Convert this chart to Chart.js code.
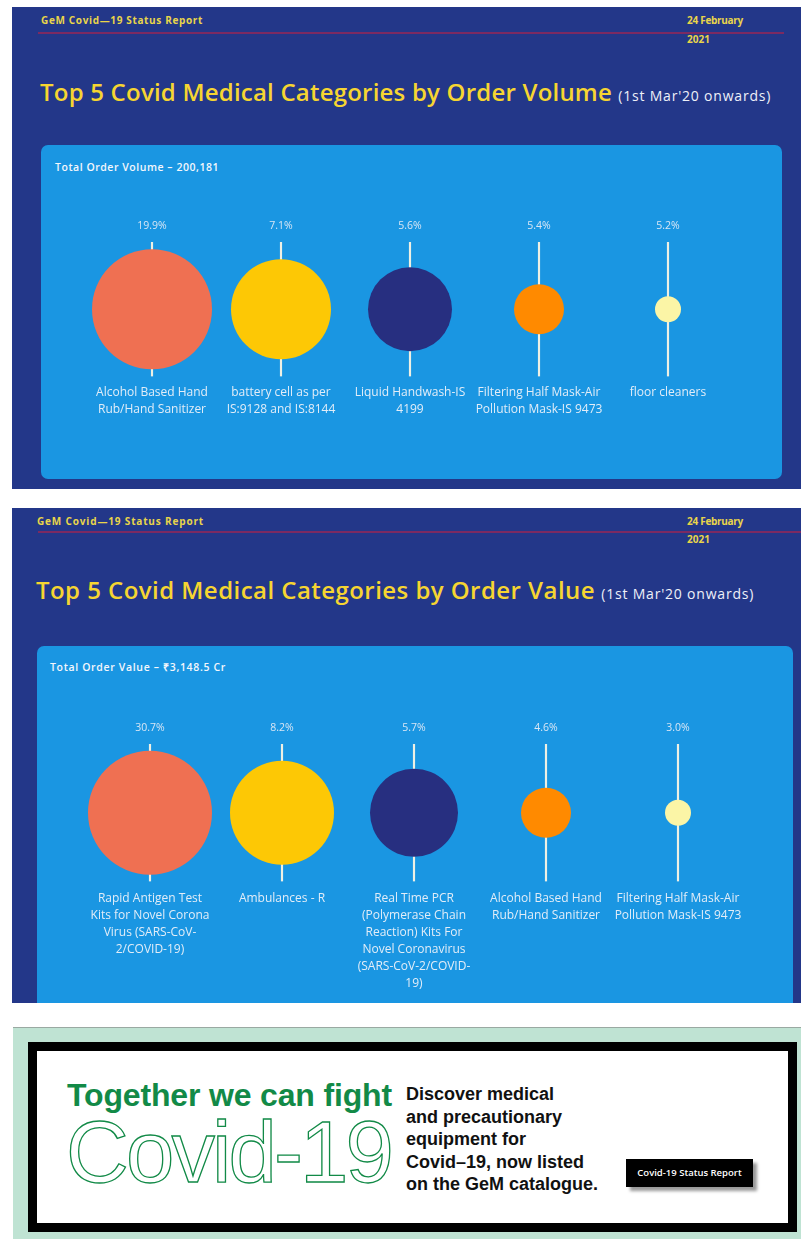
<!DOCTYPE html>
<html>
<head>
<meta charset="utf-8">
<title>GeM Covid-19 Status Report</title>
<script src="https://cdn.jsdelivr.net/npm/chart.js@4.4.1/dist/chart.umd.min.js"></script>
<style>
  body { margin: 0; width: 801px; height: 1239px; background: #fff; position: relative; overflow: hidden; font-family: 'Open Sans', sans-serif; }
  .abs { position: absolute; white-space: nowrap; }
  .panel { position: absolute; left: 12px; width: 789px; background: #233789; overflow: hidden; }
  .box { position: absolute; background: #1a96e2; border-radius: 7px; }
  .hdr { font-size: 10px; font-weight: 700; color: #e9d54a; line-height: 12px; }
  .rule { position: absolute; height: 2px; background: #7b2a62; }
  .title { font-size: 24px; font-weight: 600; color: #f6d531; line-height: 30px; }
  .title small { font-size: 14px; font-weight: 400; color: #eef0f8; }
  .total { font-size: 10.5px; font-weight: 600; color: #f4f7fc; line-height: 14px; }
  canvas { position: absolute; }
</style>
</head>
<body>

<!-- panel 1: order volume -->
<div class="panel" style="top:7px;height:482px;"></div>
<div class="abs hdr" data-fit="162" style="left:41px;top:14px;">GeM Covid—19 Status Report</div>
<div class="rule" style="left:38px;top:32px;width:746px;"></div>
<div class="abs hdr" data-fit="56" style="left:687px;top:14px;">24 February</div>
<div class="abs hdr" style="left:687px;top:33px;">2021</div>
<div class="abs title" style="left:40px;top:77px;"><span data-fit="572">Top 5 Covid Medical Categories by Order Volume</span> <small data-fit="153">(1st Mar'20 onwards)</small></div>
<div class="box" style="left:41px;top:145px;width:741px;height:334px;"></div>
<div class="abs total" data-fit="164" style="left:55px;top:160px;">Total Order Volume – 200,181</div>
<canvas id="volumeChart" width="743" height="280" style="left:40px;top:190px;"></canvas>

<!-- panel 2: order value -->
<div class="panel" style="top:508px;height:495px;"></div>
<div class="abs hdr" data-fit="167" style="left:37px;top:515px;">GeM Covid—19 Status Report</div>
<div class="rule" style="left:38px;top:531px;width:763px;"></div>
<div class="abs hdr" data-fit="56" style="left:687px;top:515px;">24 February</div>
<div class="abs hdr" style="left:687px;top:533px;">2021</div>
<div class="abs title" style="left:36px;top:575px;"><span data-fit="559">Top 5 Covid Medical Categories by Order Value</span> <small data-fit="153">(1st Mar'20 onwards)</small></div>
<div class="box" style="left:37px;top:646px;width:756px;height:357px;border-radius:7px 7px 0 0;"></div>
<div class="abs total" data-fit="176" style="left:50px;top:660px;">Total Order Value – ₹3,148.5 Cr</div>
<canvas id="valueChart" width="756" height="320" style="left:37px;top:690px;"></canvas>

<!-- banner -->
<div class="abs" style="left:13px;top:1027px;width:788px;height:212px;background:#bfe3d3;border-top:1px solid #9aa9a2;"></div>
<div class="abs" style="left:28px;top:1042px;width:769px;height:190px;box-sizing:border-box;border:9px solid #000;background:#fff;"></div>
<div class="abs" data-fit="325" style="left:67px;top:1077px;font-family:'Liberation Sans',sans-serif;font-weight:700;font-size:32px;line-height:36px;color:#128a47;">Together we can fight</div>
<div class="abs" data-fit="325" style="left:66px;top:1104px;font-family:'Liberation Sans',sans-serif;font-size:87px;line-height:96px;color:#fff;-webkit-text-stroke:1.3px #128a47;">Covid-19</div>
<div class="abs" style="left:406px;top:1083px;font-family:'Liberation Sans',sans-serif;font-weight:700;font-size:18px;line-height:22.5px;color:#111;">Discover medical<br>and precautionary<br>equipment for<br>Covid–19, now listed<br>on the GeM catalogue.</div>
<div class="abs" style="left:626px;top:1159px;width:127px;height:28px;background:#000;box-shadow:4px 4px 3px #9a9a9a;color:#fff;font-size:9.5px;font-weight:600;line-height:28px;text-align:center;">Covid-19 Status Report</div>

<script>
const volumeCategories = [
    ['Alcohol Based Hand', 'Rub/Hand Sanitizer'],
    ['battery cell as per', 'IS:9128 and IS:8144'],
    ['Liquid Handwash-IS', '4199'],
    ['Filtering Half Mask-Air', 'Pollution Mask-IS 9473'],
    ['floor cleaners'],
];
const volumeShare = [19.9, 7.1, 5.6, 5.4, 5.2];

const valueCategories = [
    ['Rapid Antigen Test', 'Kits for Novel Corona', 'Virus (SARS-CoV-', '2/COVID-19)'],
    ['Ambulances - R'],
    ['Real Time PCR', '(Polymerase Chain', 'Reaction) Kits For', 'Novel Coronavirus', '(SARS-CoV-2/COVID-', '19)'],
    ['Alcohol Based Hand', 'Rub/Hand Sanitizer'],
    ['Filtering Half Mask-Air', 'Pollution Mask-IS 9473'],
];
const valueShare = [30.7, 8.2, 5.7, 4.6, 3.0];

// bubble size goes by rank, not by share
const bubbleColors = ['#ef7052', '#fdc805', '#272f80', '#ff8a00', '#fbf5a6'];
const volumeRadius = [60, 50, 42, 25, 13];
const valueRadius = [62, 52, 44, 25, 13];

const formatPercent = (value) => `${Number(value).toFixed(1)}%`;

const fitText = () => {
    document.querySelectorAll('[data-fit]').forEach((el) => {
        const target = parseFloat(el.dataset.fit);
        const chars = el.textContent.length;
        const diff = target - el.getBoundingClientRect().width;
        el.style.letterSpacing = `${diff / chars}px`;
    });
};

const initBubbleChart = (id, categories, shares, radii, padding) => {
    const canvas = document.getElementById(id);
    if (!canvas || typeof Chart === 'undefined') {
        return;
    }

    new Chart(canvas, {
        type: 'bar',
        data: {
            labels: categories,
            datasets: [
                {
                    type: 'bubble',
                    data: shares.map((v, i) => ({ x: i, y: 0, r: radii[i] })),
                    backgroundColor: bubbleColors,
                    borderWidth: 0,
                    clip: false,
                    order: 0,
                },
                {
                    type: 'bar',
                    data: shares.map(() => [-1, 1]),
                    backgroundColor: '#eef0e4',
                    barThickness: 1.5,
                    order: 1,
                },
            ],
        },
        options: {
            responsive: false,
            animation: false,
            events: [],
            layout: { padding, autoPadding: false },
            plugins: {
                legend: { display: false },
                tooltip: { enabled: false },
            },
            scales: {
                x: {
                    type: 'category',
                    position: 'bottom',
                    offset: true,
                    grid: { display: false, drawTicks: false },
                    border: { display: false },
                    ticks: {
                        color: '#e2edf8',
                        padding: padding.labelGap,
                        maxRotation: 0,
                        autoSkip: false,
                        font: { family: 'Open Sans', size: 12, lineHeight: '17px' },
                    },
                },
                x2: {
                    type: 'category',
                    position: 'top',
                    labels: shares.map(formatPercent),
                    offset: true,
                    grid: { display: false, drawTicks: false },
                    border: { display: false },
                    ticks: {
                        color: '#d8e6f5',
                        padding: 10,
                        font: { family: 'Open Sans', size: 10.5, lineHeight: '12px' },
                    },
                },
                y: {
                    type: 'linear',
                    min: -1,
                    max: 1,
                    display: false,
                },
            },
        },
    });
};

document.addEventListener('DOMContentLoaded', () => {
    fitText();
    initBubbleChart('volumeChart', volumeCategories, volumeShare, volumeRadius,
        { left: 47.5, right: 50.5, top: 20, bottom: 44.5, labelGap: 7.5 });
    initBubbleChart('valueChart', valueCategories, valueShare, valueRadius,
        { left: 47, right: 49, top: 22, bottom: 9.5, labelGap: 8.5 });
});
</script>
</body>
</html>
